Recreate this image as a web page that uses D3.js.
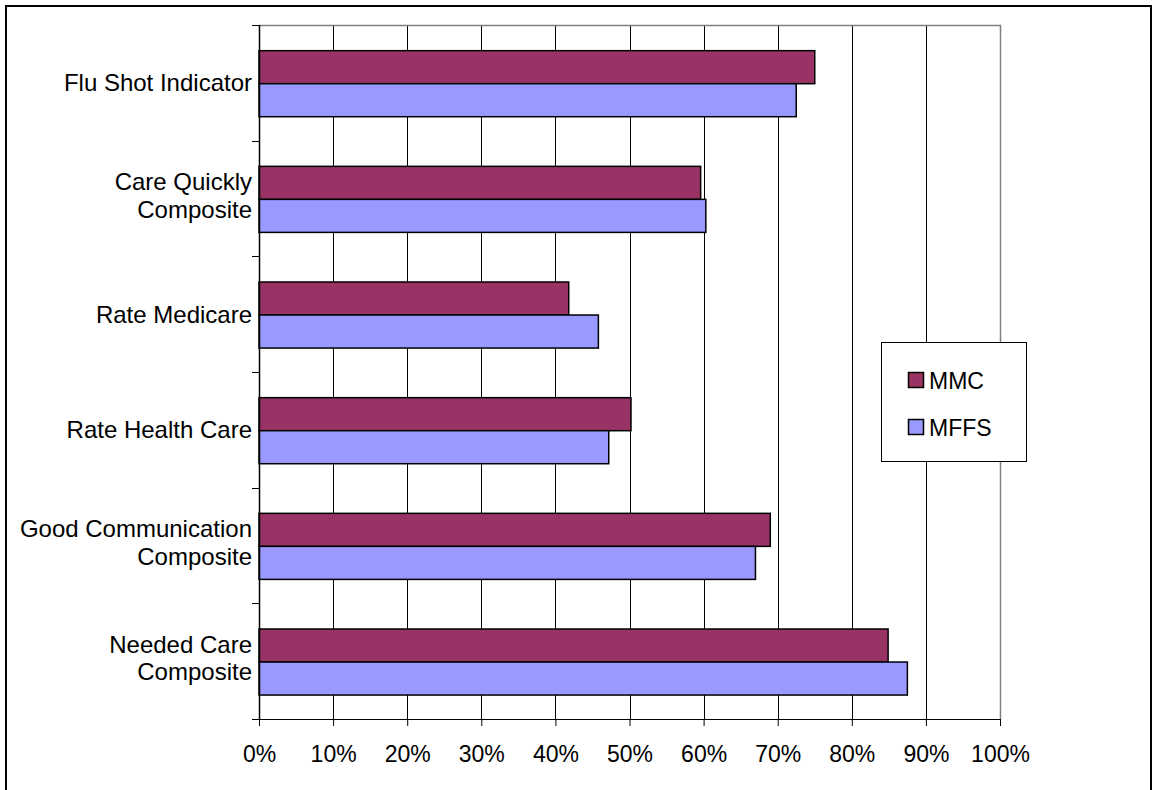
<!DOCTYPE html>
<html>
<head>
<meta charset="utf-8">
<script src="https://cdn.jsdelivr.net/npm/d3@7"></script>
<style>
  html, body { margin: 0; padding: 0; background: #fff; }
  svg { display: block; font-family: "Liberation Sans", Arial, sans-serif; }
</style>
</head>
<body>
<svg id="chart" width="1153" height="790"></svg>
<script>
// Survey measures, top to bottom
const categories = [
  "Flu Shot Indicator",
  "Care Quickly Composite",
  "Rate Medicare",
  "Rate Health Care",
  "Good Communication Composite",
  "Needed Care Composite"
];
// Axis label lines for each measure
const categoryLines = [
  ["Flu Shot Indicator"],
  ["Care Quickly", "Composite"],
  ["Rate Medicare"],
  ["Rate Health Care"],
  ["Good Communication", "Composite"],
  ["Needed Care", "Composite"]
];
const seriesNames = ["MMC", "MFFS"];
const mmcValues  = [75.0, 59.6, 41.8, 50.2, 69.0, 84.9];
const mffsValues = [72.5, 60.3, 45.8, 47.2, 67.0, 87.5];
const seriesColors = ["#993366", "#9999FF"];
const xTicks = [0, 10, 20, 30, 40, 50, 60, 70, 80, 90, 100];

const seriesValues = [mmcValues, mffsValues];
const rows = categories.map((c, i) => ({
  category: c,
  values: seriesNames.map((s, j) => ({ series: s, value: seriesValues[j][i], color: seriesColors[j] }))
}));

const svg = d3.select("#chart");
const plot = { left: 259, right: 1000, top: 25, bottom: 719 };

// Outer chart frame
svg.append("rect")
  .attr("x", 6).attr("y", 6)
  .attr("width", 1145).attr("height", 800)
  .attr("fill", "none").attr("stroke", "#000").attr("stroke-width", 2);

const x = d3.scaleLinear().domain([0, 100]).range([plot.left, plot.right]);
const y = d3.scaleBand().domain(categories).range([plot.top, plot.bottom]).padding(0);
const bw = y.bandwidth();
const ySeries = d3.scaleBand().domain(seriesNames).range([bw * 0.222, bw * 0.793]).padding(0);

// Vertical gridlines
svg.append("g").selectAll("line")
  .data(xTicks.slice(1, -1))
  .join("line")
  .attr("x1", d => Math.round(x(d)) + 0.5).attr("x2", d => Math.round(x(d)) + 0.5)
  .attr("y1", plot.top).attr("y2", plot.bottom)
  .attr("stroke", "#000").attr("stroke-width", 1);

// Plot area top and right edges
svg.append("path")
  .attr("d", `M${plot.left},${plot.top + 0.5}H${plot.right + 0.5}V${plot.bottom}`)
  .attr("fill", "none").attr("stroke", "#808080").attr("stroke-width", 1.5);

// Bars
const groups = svg.append("g").selectAll("g")
  .data(rows)
  .join("g")
  .attr("transform", d => `translate(0,${y(d.category)})`);

groups.selectAll("rect")
  .data(d => d.values)
  .join("rect")
  .attr("x", x(0))
  .attr("y", d => ySeries(d.series))
  .attr("width", d => x(d.value) - x(0))
  .attr("height", ySeries.bandwidth())
  .attr("fill", d => d.color)
  .attr("stroke", "#000")
  .attr("stroke-width", 1.5);

// X axis
const xAxis = d3.axisBottom(x)
  .tickValues(xTicks)
  .tickFormat(d => d + "%")
  .tickSize(7)
  .tickPadding(20)
  .tickSizeOuter(0);
const gx = svg.append("g")
  .attr("transform", `translate(0,${plot.bottom})`)
  .call(xAxis);
gx.select(".domain").attr("d", `M${plot.left - 7},0.5H${plot.right}`).attr("stroke", "#000");
gx.selectAll(".tick line").attr("stroke", "#000");
gx.selectAll(".tick text")
  .attr("font-size", 23)
  .attr("font-family", "Liberation Sans, Arial, sans-serif")
  .attr("fill", "#000");

// Y axis line with ticks at category boundaries
const boundaries = d3.range(categories.length + 1).map(i => plot.top + i * bw);
svg.append("line")
  .attr("x1", plot.left + 0.5).attr("x2", plot.left + 0.5)
  .attr("y1", plot.top).attr("y2", plot.bottom)
  .attr("stroke", "#000").attr("stroke-width", 1.5);
svg.append("g").selectAll("line")
  .data(boundaries)
  .join("line")
  .attr("x1", plot.left - 7).attr("x2", plot.left)
  .attr("y1", d => Math.round(d) + 0.5).attr("y2", d => Math.round(d) + 0.5)
  .attr("stroke", "#000");

// Category labels
const lineH = 27.5;
svg.append("g").selectAll("text")
  .data(categoryLines.map((lines, i) => ({ lines, cat: categories[i] })))
  .join("text")
  .attr("text-anchor", "end")
  .attr("font-size", 24)
  .attr("fill", "#000")
  .each(function(d) {
    const cy = y(d.cat) + bw / 2 - (d.lines.length > 1 ? 3 : 0);
    const n = d.lines.length;
    d3.select(this).selectAll("tspan")
      .data(d.lines)
      .join("tspan")
      .attr("x", 252)
      .attr("y", (t, k) => cy + (k - (n - 1) / 2) * lineH + 8.5)
      .text(t => t);
  });

// Legend
const legend = svg.append("g");
legend.append("rect")
  .attr("x", 881.5).attr("y", 342.5).attr("width", 145).attr("height", 119)
  .attr("fill", "#fff").attr("stroke", "#000").attr("stroke-width", 1);
const items = legend.selectAll("g.item")
  .data(seriesNames.map((s, i) => ({ s, c: seriesColors[i] })))
  .join("g").attr("class", "item")
  .attr("transform", (d, i) => `translate(0,${i * 47})`);
items.append("rect")
  .attr("x", 908.5).attr("y", 372.5).attr("width", 15).attr("height", 15)
  .attr("fill", d => d.c).attr("stroke", "#000").attr("stroke-width", 1.5);
items.append("text")
  .attr("x", 929).attr("y", 389)
  .attr("font-size", 23).attr("fill", "#000")
  .text(d => d.s);
</script>
</body>
</html>
